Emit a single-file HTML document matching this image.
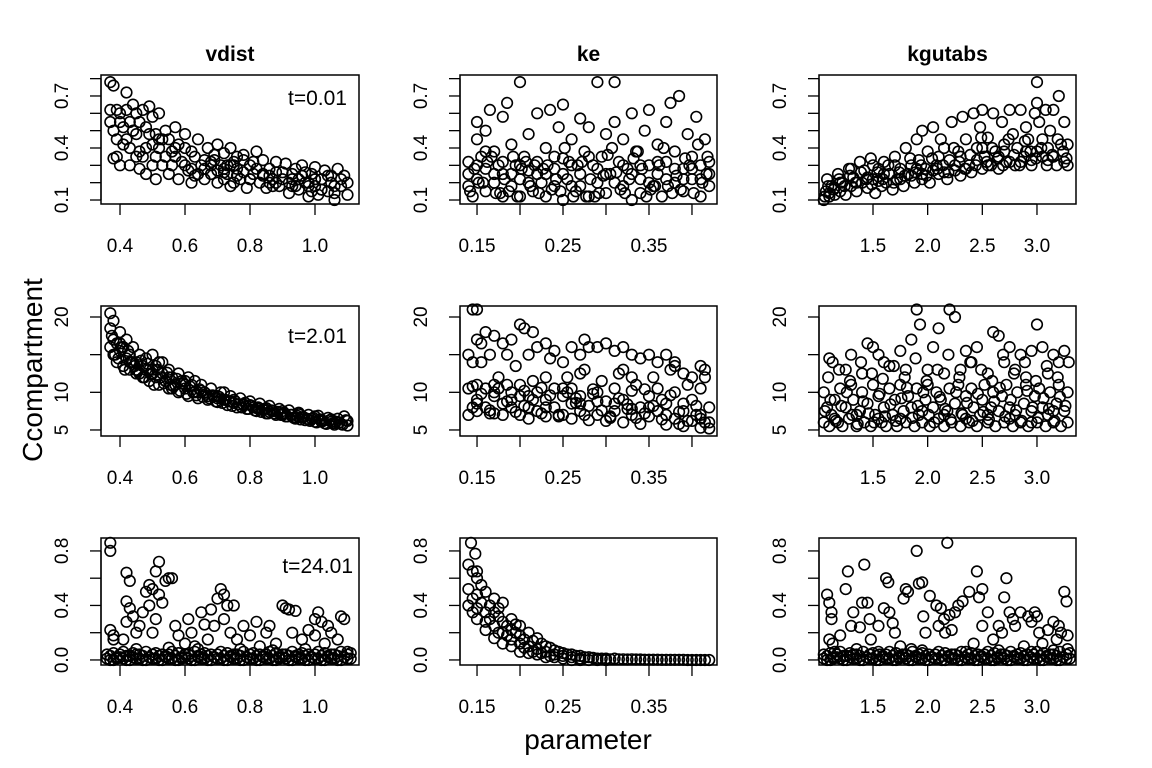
<!DOCTYPE html>
<html><head><meta charset="utf-8"><style>
html,body{margin:0;padding:0;background:#fff;}
svg{display:block;font-family:"Liberation Sans",Arial,sans-serif;}
</style></head><body>
<svg id="chart" width="1152" height="768" viewBox="0 0 1152 768" xmlns="http://www.w3.org/2000/svg"></svg>
<script>
// ---- data: panel (row r, col c) x/y values ----
const p11x=[.37,.38,.37,.37,.38,.38,.39,.40,.39,.40,.41,.42,.42,.43,.43,.43,.44,.45,.45,.46,.46,.47,.48,.48,.49,.50,.50,.51,.51,.52,.53,.54,.55,.55,.56,.57,.58,.59,.60,.60,.61,.62,.63,.64,.65,.66,.67,.68,.69,.70,.70,.71,.72,.73,.74,.74,.75,.76,.77,.78,.79,.80,.81,.82,.83,.84,.85,.86,.87,.88,.89,.90,.91,.92,.93,.94,.95,.96,.97,.98,.99,1.00,1.00,1.01,1.02,1.03,1.04,1.05,1.06,1.07,1.08,1.09,1.10,1.10,.47,.53,.66,.73,.86,.97,.41,.44,.49,.52,.57,.62,.68,.72,.76,.80,.84,.88,.93,.96,1.02,1.06,.75,.72,.78,1.0,.95,.98];
const p11y=[.78,.76,.62,.55,.50,.34,.35,.30,.45,.60,.52,.72,.62,.55,.40,.30,.65,.60,.48,.28,.38,.62,.25,.52,.64,.58,.42,.22,.35,.60,.30,.50,.45,.25,.38,.52,.22,.32,.48,.40,.27,.20,.35,.45,.30,.22,.40,.25,.33,.42,.20,.30,.37,.25,.18,.40,.32,.28,.22,.36,.17,.30,.25,.38,.20,.33,.17,.28,.22,.32,.18,.26,.31,.14,.22,.28,.16,.30,.20,.12,.25,.18,.29,.13,.22,.27,.15,.20,.10,.28,.18,.24,.13,.20,.35,.45,.33,.30,.24,.26,.42,.50,.48,.40,.35,.28,.30,.28,.24,.22,.24,.20,.18,.24,.16,.14,.30,.26,.33,.22,.22,.2];
const p11bx=[.40,.42,.44,.46,.48,.50,.52,.54,.56,.58,.60,.62,.64,.66,.68,.70,.72,.74,.76,.78,.80,.82,.84,.86,.88,.90,.92,.94,.96,.98,1.00,1.02,1.04,1.06,1.08,.39,.45,.51,.57,.63,.69,.75,.81,.87,.93,.99,1.05];
const p11by=[.55,.45,.50,.55,.40,.30,.45,.35,.30,.42,.30,.38,.25,.28,.32,.27,.22,.30,.35,.26,.22,.28,.25,.20,.26,.22,.20,.18,.24,.18,.22,.16,.24,.18,.22,.62,.35,.48,.40,.24,.36,.20,.32,.18,.25,.15,.24];
const p12x=[.14,.14,.14,.145,.15,.15,.15,.155,.16,.16,.16,.165,.17,.17,.175,.18,.18,.18,.185,.19,.19,.195,.20,.20,.20,.205,.21,.21,.215,.22,.22,.225,.23,.23,.235,.24,.24,.245,.25,.25,.25,.255,.26,.26,.265,.27,.27,.275,.28,.28,.285,.29,.29,.295,.30,.30,.305,.31,.31,.315,.32,.32,.325,.33,.33,.335,.34,.34,.345,.35,.35,.355,.36,.36,.365,.37,.37,.375,.38,.38,.385,.39,.39,.395,.40,.40,.405,.41,.41,.415,.42,.42,.15,.17,.19,.21,.23,.25,.27,.29,.31,.33,.35,.37,.39,.41,.16,.20,.24,.28,.32,.36,.40,.18,.22,.26,.30,.34,.38,.42];
const p12y=[.25,.18,.32,.12,.45,.55,.22,.35,.28,.15,.50,.62,.20,.38,.30,.12,.58,.25,.66,.18,.42,.30,.78,.22,.12,.35,.27,.48,.15,.60,.32,.20,.40,.12,.62,.28,.18,.52,.65,.34,.10,.22,.45,.30,.15,.57,.25,.38,.12,.52,.30,.20,.78,.35,.48,.14,.25,.78,.55,.32,.18,.45,.28,.10,.60,.38,.22,.14,.50,.30,.62,.18,.42,.25,.12,.55,.32,.66,.20,.38,.70,.28,.15,.48,.22,.35,.58,.12,.30,.45,.25,.18,.30,.25,.25,.20,.25,.25,.18,.28,.20,.25,.20,.22,.22,.22,.38,.30,.35,.35,.30,.32,.28,.32,.25,.18,.25,.30,.28,.32];
const p12bx=[.142,.152,.162,.172,.182,.192,.202,.212,.222,.232,.242,.252,.262,.272,.282,.292,.302,.312,.322,.332,.342,.352,.362,.372,.382,.392,.402,.412,.418,.147,.167,.187,.207,.227,.247,.267,.287,.307,.327,.347,.367,.387,.407,.157,.177,.197,.217,.237,.257,.277,.297,.317,.337,.357,.377,.397,.417];
const p12by=[.15,.20,.32,.14,.22,.35,.28,.18,.14,.30,.22,.40,.12,.32,.22,.14,.36,.26,.14,.34,.28,.16,.30,.18,.24,.34,.14,.20,.35,.28,.35,.15,.32,.28,.15,.30,.12,.40,.22,.12,.40,.16,.42,.20,.14,.12,.30,.16,.32,.12,.24,.16,.38,.18,.14,.30,.25];
const p13x=[1.05,1.07,1.08,1.10,1.12,1.15,1.18,1.20,1.22,1.25,1.28,1.30,1.32,1.35,1.38,1.40,1.42,1.45,1.48,1.50,1.52,1.55,1.58,1.60,1.62,1.65,1.68,1.70,1.72,1.75,1.78,1.80,1.82,1.85,1.88,1.90,1.92,1.95,1.95,1.98,2.00,2.02,2.05,2.08,2.10,2.12,2.15,2.18,2.20,2.22,2.25,2.28,2.30,2.32,2.35,2.38,2.40,2.42,2.45,2.48,2.50,2.50,2.52,2.55,2.58,2.60,2.62,2.65,2.68,2.70,2.72,2.75,2.78,2.80,2.82,2.85,2.88,2.90,2.92,2.95,2.98,3.00,3.00,3.00,3.02,3.05,3.08,3.10,3.12,3.15,3.18,3.20,3.22,3.25,3.25,3.28,3.28,1.30,1.50,1.70,1.90,2.10,2.30,2.50,2.70,2.90,3.10,1.20,1.45,1.60,1.85,2.05,2.25,2.45,2.65,2.85,3.05,1.10,1.15,1.35,1.55,1.75,1.95,2.15,2.35,2.55,2.75,2.95,3.15];
const p13y=[.10,.15,.22,.12,.18,.13,.25,.15,.20,.13,.28,.18,.23,.15,.32,.20,.27,.17,.34,.22,.14,.28,.18,.32,.20,.25,.16,.35,.22,.28,.18,.40,.25,.30,.20,.45,.33,.50,.22,.28,.38,.20,.52,.30,.25,.45,.40,.22,.33,.55,.27,.38,.24,.58,.45,.30,.26,.60,.40,.52,.62,.28,.35,.46,.30,.60,.38,.28,.55,.42,.32,.62,.48,.30,.40,.62,.35,.52,.45,.30,.60,.78,.66,.38,.55,.45,.62,.33,.50,.62,.30,.70,.42,.32,.55,.30,.42,.28,.30,.30,.28,.35,.35,.40,.38,.38,.40,.20,.23,.25,.24,.27,.30,.33,.35,.32,.35,.14,.17,.20,.21,.22,.25,.26,.28,.30,.32,.33,.35];
const p13bx=[1.06,1.09,1.14,1.19,1.24,1.29,1.34,1.39,1.44,1.49,1.54,1.59,1.64,1.69,1.74,1.79,1.84,1.89,1.94,1.99,2.04,2.09,2.14,2.19,2.24,2.29,2.34,2.39,2.44,2.49,2.54,2.59,2.64,2.69,2.74,2.79,2.84,2.89,2.94,2.99,3.04,3.09,3.14,3.19,3.24,3.27];
const p13by=[.12,.18,.16,.22,.18,.24,.20,.26,.22,.19,.26,.22,.30,.20,.26,.24,.34,.26,.30,.24,.34,.28,.30,.26,.40,.32,.28,.36,.30,.46,.32,.40,.34,.30,.45,.36,.30,.44,.38,.34,.40,.30,.36,.45,.38,.34];
const p21x=[.37,.37,.37,.38,.38,.39,.39,.40,.40,.41,.41,.42,.42,.43,.43,.44,.45,.45,.46,.47,.47,.48,.49,.49,.50,.50,.51,.52,.52,.53,.54,.55,.55,.56,.57,.58,.58,.59,.60,.61,.61,.62,.63,.64,.65,.66,.67,.68,.69,.70,.71,.72,.73,.74,.75,.76,.77,.78,.79,.80,.81,.82,.83,.84,.85,.86,.87,.88,.89,.90,.91,.92,.93,.94,.95,.96,.97,.98,.99,1.00,1.01,1.02,1.03,1.04,1.05,1.06,1.07,1.08,1.09,1.10,1.10,.38,.44,.53,.63,.72,.46,.56,.40,.43,.48,.51,.54,.57,.60,.64,.67,.70,.74,.78,.82,.86,.90,.94,.98,1.02,1.06,.45,.50,.55,.60,.65,.70,.75,.80,.85,.90,.95,1.00,1.05];
const p21y=[20.5,18.5,16,15,17,14,16.5,18,15.5,13.5,16,17,14.5,15,13,16,14,12.5,15,13.5,12,14.5,13,11.5,15,12.5,13.5,11,14,12.5,11.5,13,10.5,12,11,12.5,10,11.5,10.5,9.5,12,11,10,9.2,11,10,9,10.5,9.5,8.7,10,9,8.3,9.5,8.6,8,9.2,8.4,7.8,8.8,8,7.5,8.5,7.7,7.2,8.2,7.5,7,7.8,7.2,6.8,7.6,7,6.5,7.3,6.7,6.3,7,6.5,6.1,6.9,6.3,5.9,6.6,6.1,5.7,6.5,5.8,6.8,5.6,6.2,19.5,14,14,11.5,10,12.5,10.5,16.5,14,13,12,11.5,11,11,10,9.5,9.2,8.8,8.3,7.9,7.4,7,6.7,6.4,6.1,5.9,13,13,12,11.5,10.2,9.5,9,8.3,7.9,7.5,7.1,6.8,6.4];
const p21bx=[.375,.385,.395,.405,.415,.425,.435,.445,.455,.465,.475,.485,.495,.505,.515,.525,.535,.545,.555,.565,.575,.585,.595,.605,.615,.625,.635,.645,.655,.665,.675,.685,.695,.705,.715,.725,.735,.745,.755,.765,.775,.785,.795,.805,.815,.825,.835,.845,.855,.865,.875,.885,.895,.905,.915,.925,.935,.945,.955,.965,.975,.985,.995,1.005,1.015,1.025,1.035,1.045,1.055,1.065,1.075,1.085,1.095];
const p21by=[17.5,15,14.5,16,13,15.5,14,13.5,12.8,14.2,12,13.8,12.4,11,13,12,11.2,12.6,11,10.8,11.8,10.2,11.2,9.8,10.8,10,9.6,10.4,9.4,9.8,9.2,9.6,8.8,9.4,8.6,9,8.8,8.2,8.8,8.4,8,8.6,7.8,8.2,7.6,8,7.4,7.8,7.2,7.6,7.2,7.4,7,7.3,6.8,7,6.6,6.9,6.4,6.7,6.5,6.2,6.6,6,6.4,6.2,5.8,6.3,5.9,6.1,6,5.7,6.3];
const p22x=[.145,.15,.15,.155,.16,.165,.17,.18,.185,.19,.20,.205,.21,.215,.22,.23,.24,.25,.26,.27,.275,.28,.29,.30,.31,.32,.33,.34,.35,.36,.37,.38,.39,.40,.41,.415,.14,.145,.32,.33,.23,.27,.38,.14,.14,.15,.15,.15,.16,.16,.17,.17,.17,.18,.18,.19,.19,.20,.20,.20,.21,.21,.22,.22,.23,.23,.24,.24,.25,.25,.26,.26,.26,.27,.27,.28,.28,.29,.29,.30,.30,.31,.31,.32,.32,.33,.33,.34,.34,.35,.35,.36,.36,.37,.37,.38,.38,.39,.39,.40,.40,.41,.41,.41,.42,.42,.42,.15,.19,.23,.27,.31,.35,.39,.17,.21,.25,.29,.33,.37,.41];
const p22y=[21,21,17,16.5,18,15,17.5,16.5,15,17,19,18.5,15,18,16,16.5,15.5,14,16,15,17,16,16,16.5,15.5,16,15,14.5,15,14,15,13.5,12.5,12,13.5,13,15,14,13,12,12,12.5,14,10.5,7,9,11,7.5,8,10.5,7.2,9.5,11,8.5,7,10,8,7,9.5,11,8,6.5,10,7.5,9,6.8,10.5,8,7,9.5,6.5,8.5,10.5,7.5,9.5,6.3,8.2,10,7,8.8,6.2,10.5,7.5,6,9,7,10.2,8,5.8,9.5,6.8,7.5,10.5,5.7,8.5,6.5,10,7.5,5.5,9,6.2,5.3,7,10.5,6,5.2,8,8.5,9,8,8.5,8.5,8,8.5,10,9.5,10.5,8.8,7.8,7,6.5];
const p22bx=[.145,.155,.165,.175,.185,.195,.205,.215,.225,.235,.245,.255,.265,.275,.285,.295,.305,.315,.325,.335,.345,.355,.365,.375,.385,.395,.405,.415,.145,.165,.185,.205,.225,.245,.265,.285,.305,.325,.345,.365,.385,.405,.155,.175,.195,.215,.235,.255,.275,.295,.315,.335,.355,.375,.395,.415];
const p22by=[8,9.8,7.6,10.5,8.8,7.4,10.2,9,7.2,9.6,7,10,8.6,7,9.8,7.6,6.8,9.2,7.8,6.6,10.4,8.2,6.4,9.6,7.4,6.2,8.2,6,10.8,7.2,11,8.2,10.6,6.8,9.2,10.4,6.6,8.4,7.2,9,5.8,7,14,12,13.5,11.5,14.5,12,13,11.5,12.5,11,12,13,11,12];
const p23x=[1.10,1.13,1.30,1.45,1.50,1.55,1.65,1.75,1.85,1.90,1.93,2.05,2.10,2.20,2.25,2.35,2.45,2.60,2.65,2.75,2.85,2.95,3.00,3.05,3.15,3.25,1.25,1.60,2.00,2.40,2.80,3.20,1.40,2.15,2.55,2.90,3.10,1.80,2.30,2.70,1.05,1.05,1.08,1.10,1.12,1.15,1.18,1.20,1.22,1.25,1.28,1.30,1.32,1.35,1.38,1.40,1.42,1.45,1.48,1.50,1.52,1.55,1.58,1.60,1.62,1.65,1.68,1.70,1.72,1.75,1.78,1.80,1.82,1.85,1.88,1.90,1.92,1.95,1.98,2.00,2.02,2.05,2.08,2.10,2.12,2.15,2.18,2.20,2.22,2.25,2.28,2.30,2.32,2.35,2.38,2.40,2.42,2.45,2.48,2.50,2.52,2.55,2.58,2.60,2.62,2.65,2.68,2.70,2.72,2.75,2.78,2.80,2.82,2.85,2.88,2.90,2.92,2.95,2.98,3.00,3.02,3.05,3.08,3.10,3.12,3.15,3.18,3.20,3.22,3.25,3.28,3.28,1.15,1.35,1.55,1.75,1.95,2.15,2.35,2.55,2.75,2.95,3.15];
const p23y=[14.5,14,15,16.5,16,15,13.5,15.5,17,21,19,16,18.5,21,20,15.5,16,18,17.5,16,15,15.5,19,16,15,15.5,13,14,13,14,13,14,12.5,12.5,12.5,12,12.5,13,13,14,10,6,8,5.5,7,9,6,10.5,5.5,8,6.5,11,9,5.5,7.5,10,6,8.5,5.5,11,7,9.5,6,8,5.5,10.5,7,9,5.5,11,7.5,6,9.5,8,5.5,10.5,7,6,9,11,5.5,8,10,6.5,9,5.5,7.5,10.5,6,8.5,11,5.5,7,9.5,6,10.5,8,5.5,7,9,11,6,8,10,5.5,7.5,9.5,6,11,8,5.5,7,10,6,8.5,11,5.5,7.5,9.5,6,10.5,8,5.5,7,10,6,8.5,11,5.5,7.5,10,6,6.5,7,6.5,6.5,7.5,7,6.5,7,6.5,6,7.5];
const p23bx=[1.06,1.11,1.16,1.21,1.26,1.31,1.36,1.41,1.46,1.51,1.56,1.61,1.66,1.71,1.76,1.81,1.86,1.91,1.96,2.01,2.06,2.11,2.16,2.21,2.26,2.31,2.36,2.41,2.46,2.51,2.56,2.61,2.66,2.71,2.76,2.81,2.86,2.91,2.96,3.01,3.06,3.11,3.16,3.21,3.26,1.09,1.19,1.29,1.39,1.49,1.59,1.69,1.79,1.89,1.99,2.09,2.19,2.29,2.39,2.49,2.59,2.69,2.79,2.89,2.99,3.09,3.19,3.29];
const p23by=[7.5,9,6.2,8.2,10,7,5.8,8.8,7.2,6,9.8,6.8,8.4,6.2,9.2,10.6,6.6,8.2,10,7,6,9.4,7.8,6.4,10,7.2,8.6,6.2,9.8,7.4,6.4,8.8,10.6,6.8,9,7.6,6.2,10.2,8,6.6,9.2,7.8,6.2,9.4,8.2,12,13,11.5,14,12.5,11.8,13.5,12,14.5,11.5,13,15,12,14,13,11.5,15,12.5,14,11.5,13.5,12,14];
const p31zx=[.36,.37,.38,.39,.40,.41,.42,.43,.44,.45,.46,.47,.48,.49,.50,.51,.52,.53,.54,.55,.56,.57,.58,.59,.60,.61,.62,.63,.64,.65,.66,.67,.68,.69,.70,.71,.72,.73,.74,.75,.76,.77,.78,.79,.80,.81,.82,.83,.84,.85,.86,.87,.88,.89,.90,.91,.92,.93,.94,.95,.96,.97,.98,.99,1.00,1.01,1.02,1.03,1.04,1.05,1.06,1.07,1.08,1.09,1.10,1.11];
const p31zy=[.01,.03,.0,.02,.04,.01,.03,.0,.02,.04,.01,.03,.0,.02,.04,.01,.03,.0,.02,.04,.01,.03,.0,.02,.04,.01,.03,.0,.02,.04,.01,.03,.0,.02,.04,.01,.03,.0,.02,.04,.01,.03,.0,.02,.04,.01,.03,.0,.02,.04,.01,.03,.0,.02,.04,.01,.03,.0,.02,.04,.01,.03,.0,.02,.04,.01,.03,.0,.02,.04,.01,.03,.0,.02,.04,.01];
const p31zy2=[.04,.0,.05,.01,.02,.06,.0,.03,.05,.01,.04,.0,.06,.02,.01,.05,.0,.04,.03,.01,.06,.0,.05,.01,.02,.04,.0,.06,.03,.01,.05,.0,.04,.02,.01,.06,.0,.05,.03,.01,.04,.0,.06,.02,.01,.05,.0,.04,.03,.01,.06,.0,.05,.01,.02,.04,.0,.06,.03,.01,.05,.0,.04,.02,.01,.06,.0,.05,.03,.01,.04,.0,.06,.02,.01,.05];
const p31x=[.37,.37,.37,.38,.38,.42,.43,.42,.43,.42,.44,.41,.45,.46,.47,.48,.49,.50,.49,.51,.52,.52,.53,.54,.55,.56,.51,.50,.57,.58,.60,.61,.62,.63,.65,.66,.67,.68,.69,.70,.71,.72,.73,.72,.74,.75,.76,.78,.80,.82,.83,.85,.86,.88,.90,.91,.92,.94,.93,.96,.98,1.00,1.01,1.02,1.00,1.03,1.04,1.05,1.07,1.08,1.09,1.10,.64,.77,.87,.97,.45,.55];
const p31y=[.86,.80,.22,.18,.15,.64,.58,.43,.38,.28,.32,.15,.20,.25,.35,.50,.55,.52,.40,.65,.72,.48,.42,.58,.60,.60,.30,.20,.25,.18,.12,.30,.20,.10,.35,.26,.15,.37,.25,.45,.52,.48,.40,.30,.20,.40,.15,.25,.18,.28,.10,.20,.25,.12,.40,.38,.37,.36,.20,.15,.22,.30,.35,.28,.18,.12,.25,.20,.15,.32,.30,.06,.08,.08,.07,.08,.08,.09];
const p32x=[.143,.148,.14,.145,.15,.15,.14,.145,.15,.14,.145,.15,.155,.155,.16,.16,.16,.165,.165,.17,.17,.17,.175,.175,.18,.18,.18,.185,.185,.19,.19,.19,.195,.2,.2,.2,.205,.21,.21,.215,.22,.22,.225,.23,.23,.235,.24,.24,.245,.25,.25,.255,.26,.26,.265,.27,.27,.275,.28,.285,.29,.295,.30,.305,.31,.315,.32,.325,.33,.335,.34,.345,.35,.355,.36,.365,.37,.375,.38,.385,.39,.395,.40,.405,.41,.415,.42,.15,.16,.17,.18,.19,.20,.21,.22,.23,.24,.175,.195,.205,.215,.225,.235,.25,.26,.27,.28,.29,.30];
const p32y=[.86,.78,.70,.65,.65,.60,.52,.45,.48,.40,.35,.30,.55,.42,.35,.50,.28,.40,.30,.45,.35,.25,.32,.20,.28,.42,.20,.25,.18,.22,.15,.30,.20,.12,.25,.18,.15,.20,.10,.14,.16,.08,.12,.10,.06,.09,.07,.04,.06,.05,.03,.04,.04,.02,.03,.03,.01,.02,.02,.015,.01,.01,.01,.005,.01,.005,.005,.003,.005,.003,.003,.002,.002,.002,.002,.001,.001,.001,.001,.001,.001,0,0,0,0,0,0,.38,.22,.16,.12,.10,.06,.05,.04,.02,.02,.38,.26,.09,.06,.05,.03,.01,.0,.0,.0,.0,.0];
const p33zx=[1.05,1.08,1.11,1.14,1.17,1.20,1.23,1.26,1.29,1.32,1.35,1.38,1.41,1.44,1.47,1.50,1.53,1.56,1.59,1.62,1.65,1.68,1.71,1.74,1.77,1.80,1.83,1.86,1.89,1.92,1.95,1.98,2.01,2.04,2.07,2.10,2.13,2.16,2.19,2.22,2.25,2.28,2.31,2.34,2.37,2.40,2.43,2.46,2.49,2.52,2.55,2.58,2.61,2.64,2.67,2.70,2.73,2.76,2.79,2.82,2.85,2.88,2.91,2.94,2.97,3.00,3.03,3.06,3.09,3.12,3.15,3.18,3.21,3.24,3.27,3.30];
const p33zy=[.01,.03,.0,.02,.04,.01,.03,.0,.02,.04,.01,.03,.0,.02,.04,.01,.03,.0,.02,.04,.01,.03,.0,.02,.04,.01,.03,.0,.02,.04,.01,.03,.0,.02,.04,.01,.03,.0,.02,.04,.01,.03,.0,.02,.04,.01,.03,.0,.02,.04,.01,.03,.0,.02,.04,.01,.03,.0,.02,.04,.01,.03,.0,.02,.04,.01,.03,.0,.02,.04,.01,.03,.0,.02,.04,.01];
const p33zy2=[.04,.0,.05,.01,.02,.06,.0,.03,.05,.01,.04,.0,.06,.02,.01,.05,.0,.04,.03,.01,.06,.0,.05,.01,.02,.04,.0,.06,.03,.01,.05,.0,.04,.02,.01,.06,.0,.05,.03,.01,.04,.0,.06,.02,.01,.05,.0,.04,.03,.01,.06,.0,.05,.01,.02,.04,.0,.06,.03,.01,.05,.0,.04,.02,.01,.06,.0,.05,.03,.01,.04,.0,.06,.02,.01,.05];
const p33x=[1.08,1.10,1.12,1.12,1.10,1.13,1.20,1.25,1.27,1.30,1.32,1.38,1.40,1.42,1.45,1.47,1.48,1.55,1.60,1.62,1.64,1.65,1.68,1.70,1.75,1.78,1.80,1.82,1.85,1.90,1.92,1.95,1.96,1.98,2.02,2.08,2.10,2.12,2.15,2.16,2.18,2.20,2.22,2.25,2.28,2.32,2.38,2.42,2.45,2.47,2.50,2.50,2.55,2.60,2.65,2.68,2.70,2.72,2.75,2.78,2.80,2.85,2.88,2.92,2.95,2.98,3.00,3.02,3.05,3.10,3.15,3.18,3.20,3.22,3.25,3.27,3.28,3.28,1.15,1.35,1.55,1.95,2.35,2.65,2.95,3.15];
const p33y=[.48,.42,.35,.30,.15,.12,.18,.52,.65,.25,.35,.24,.42,.70,.42,.30,.15,.25,.38,.60,.57,.35,.27,.20,.10,.45,.52,.50,.08,.80,.56,.57,.32,.20,.47,.40,.25,.38,.30,.20,.86,.33,.22,.35,.40,.43,.50,.12,.65,.46,.52,.25,.35,.15,.25,.20,.46,.60,.35,.30,.25,.35,.10,.32,.28,.35,.32,.20,.12,.22,.28,.15,.25,.20,.50,.43,.18,.08,.06,.08,.06,.07,.06,.07,.06,.07];
// tick label values
const colTitles=["vdist","ke","kgutabs"];
const rowLabels=["t=0.01","t=2.01","t=24.01"];
const xTicks=[[0.4,0.6,0.8,1.0],[0.15,0.20,0.25,0.30,0.35,0.40],[1.5,2.0,2.5,3.0]];
const xTickLabels=[["0.4","0.6","0.8","1.0"],["0.15","","0.25","","0.35",""],["1.5","2.0","2.5","3.0"]];
const yTicks=[[0.1,0.2,0.3,0.4,0.5,0.6,0.7,0.8],[5,10,15,20],[0,0.2,0.4,0.6,0.8]];
const yTickLabels=[["0.1","","","0.4","","","0.7",""],["5","10","","20"],["0.0","","0.4","","0.8"]];

// ---- layout ----
const NS="http://www.w3.org/2000/svg";
const svg=document.getElementById('chart');
const colBox=[[101,359],[460,717],[819,1076]];
const rowBox=[[75,204],[306,436],[538,665]];
const xDom=[[0.3415,1.1354],[0.1302,0.4291],[1.006,3.357]];
const yDom=[[0.077,0.821],[4.20,21.46],[-0.037,0.895]];
function sx(c,v){const[a,b]=xDom[c],[l,r]=colBox[c];return l+(v-a)/(b-a)*(r-l);}
function sy(r,v){const[a,b]=yDom[r],[t,bt]=rowBox[r];return bt-(v-a)/(b-a)*(bt-t);}
function mk(tag,attrs,parent){const e=document.createElementNS(NS,tag);for(const k in attrs)e.setAttribute(k,attrs[k]);(parent||svg).appendChild(e);return e;}
const panels=[[ [p11x,p11y,p11bx,p11by],[p12x,p12y,p12bx,p12by],[p13x,p13y,p13bx,p13by] ],
              [ [p21x,p21y,p21bx,p21by],[p22x,p22y,p22bx,p22by],[p23x,p23y,p23bx,p23by] ],
              [ [p31zx,p31zy,p31zx,p31zy2,p31x,p31y],[p32x,p32y],[p33zx,p33zy,p33zx,p33zy2,p33x,p33y] ]];
for(let r=0;r<3;r++){for(let c=0;c<3;c++){
  const g=mk('g',{});
  
  
  const [l,rt]=colBox[c],[t,b]=rowBox[r];
  const pts=mk('g',{fill:'none',stroke:'#000','stroke-width':'1.6'},g);
  
  
  const arrs=panels[r][c];
  for(let k=0;k<arrs.length;k+=2){const xs=arrs[k],ys=arrs[k+1];
    for(let i=0;i<xs.length;i++){
      const ci=mk('circle',{cx:sx(c,xs[i]).toFixed(1),cy:sy(r,ys[i]).toFixed(1),r:5.3},pts);
      
      
    }}
  const box=mk('rect',{x:l,y:t,width:rt-l,height:b-t,fill:'none',stroke:'#000','stroke-width':'1.5'},g);
  
  
  const xa=mk('g',{},g);
  
  
  const xt=xTicks[c];
  mk('line',{x1:sx(c,xt[0]),x2:sx(c,xt[xt.length-1]),y1:b,y2:b,stroke:'#000','stroke-width':1.3},xa);
  xt.forEach((v,i)=>{const x=sx(c,v);
    mk('line',{x1:x,x2:x,y1:b,y2:b+11,stroke:'#000','stroke-width':1.3},xa);
    if(xTickLabels[c][i]){const tx=mk('text',{x:x,y:b+48,'text-anchor':'middle','font-size':19},xa);tx.textContent=xTickLabels[c][i];
      
      }
  });
  const ya=mk('g',{},g);
  
  
  const yt=yTicks[r].filter(v=>v>=yDom[r][0]&&v<=yDom[r][1]);
  mk('line',{x1:l,x2:l,y1:sy(r,yt[0]),y2:sy(r,yt[yt.length-1]),stroke:'#000','stroke-width':1.3},ya);
  yTicks[r].forEach((v,i)=>{if(v<yDom[r][0]||v>yDom[r][1])return;const y=sy(r,v);
    mk('line',{x1:l-11,x2:l,y1:y,y2:y,stroke:'#000','stroke-width':1.3},ya);
    if(yTickLabels[r][i]){const tx=mk('text',{x:0,y:0,'text-anchor':'middle','font-size':19,transform:'translate('+(l-33)+','+y+') rotate(-90)'},ya);tx.textContent=yTickLabels[r][i];
      
      }
  });
  if(r===0){const tt=mk('text',{x:(l+rt)/2,y:61,'text-anchor':'middle','font-size':21,'font-weight':'bold'},g);tt.textContent=colTitles[c];
    
    }
  if(c===0){const tl=mk('text',{x:r===2?353:347,y:[105,343,573][r],'text-anchor':'end','font-size':21},g);tl.textContent=rowLabels[r];
    
    }
}}
const yl=mk('text',{x:0,y:0,'text-anchor':'middle','font-size':28,transform:'translate(42,370) rotate(-90)'});
yl.textContent='Ccompartment';


const xl=mk('text',{x:588,y:749,'text-anchor':'middle','font-size':28});
xl.textContent='parameter';


</script>
</body></html>
